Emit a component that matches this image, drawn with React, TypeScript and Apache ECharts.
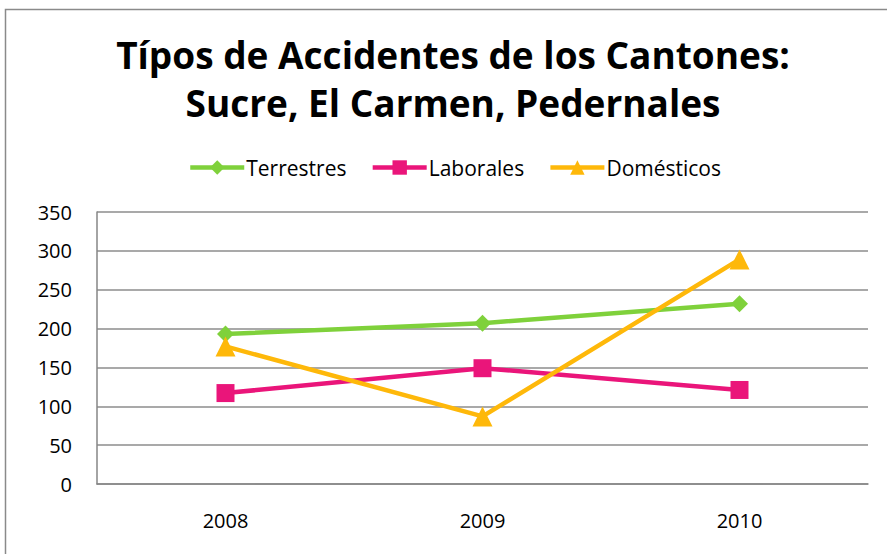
import React, { useEffect, useRef } from "react";
import * as echarts from "echarts";

const titleLines = ["Típos de Accidentes de los Cantones:", "Sucre, El Carmen, Pedernales"];
const years = ["2008", "2009", "2010"];
const terrestres = [193, 207, 232];
const laborales = [117, 149, 121];
const domesticos = [177, 87, 289];
const yTicks = { min: 0, max: 350, interval: 50 };

const FONT = "'Open Sans', Lato, sans-serif";

export default function App() {
  const ref = useRef<HTMLDivElement>(null);
  useEffect(() => {
    if (!ref.current) return;
    const chart = echarts.init(ref.current, undefined, { renderer: "svg" });
    chart.setOption({
      animation: false,
      backgroundColor: "#fff",
      graphic: [
        {
          type: "rect",
          shape: { x: 5.5, y: 9.5, width: 1000, height: 1000 },
          style: { fill: "none", stroke: "#8a8a8a", lineWidth: 1.5 },
          silent: true,
        },
        {
          type: "text",
          x: 453,
          y: 30,
          silent: true,
          style: {
            text: titleLines.join("\n"),
            fontFamily: FONT,
            fontWeight: "bold",
            fontSize: 37,
            lineHeight: 48,
            fill: "#000",
            align: "center",
            verticalAlign: "top",
          },
        },
      ],
      legend: {
        top: 152,
        left: 183,
        itemWidth: 54,
        itemHeight: 18,
        itemGap: 24,
        lineStyle: { width: 4.5 },
        textStyle: { fontFamily: FONT, fontSize: 21, color: "#000", padding: [0, 0, 0, -3] },
        data: ["Terrestres", "Laborales", "Domésticos"],
      },
      grid: { left: 97, right: 19, top: 212, bottom: 70 },
      xAxis: {
        type: "category",
        data: years,
        boundaryGap: true,
        axisLine: { show: true, lineStyle: { color: "#868686", width: 1.5 } },
        axisTick: { show: false },
        axisLabel: { fontFamily: FONT, fontSize: 20, color: "#000", margin: 26 },
      },
      yAxis: {
        type: "value",
        min: yTicks.min,
        max: yTicks.max,
        interval: yTicks.interval,
        axisLine: { show: true, lineStyle: { color: "#868686", width: 1.5 } },
        axisTick: { show: false },
        axisLabel: { fontFamily: FONT, fontSize: 20, color: "#000", margin: 25 },
        splitLine: { show: true, lineStyle: { color: "#8c8c8c", width: 1.5 } },
      },
      series: [
        {
          name: "Terrestres",
          type: "line",
          data: terrestres,
          symbol: "diamond",
          symbolSize: 17,
          color: "#7fd13b",
          lineStyle: { width: 4.5, color: "#7fd13b" },
          itemStyle: { color: "#7fd13b" },
        },
        {
          name: "Laborales",
          type: "line",
          data: laborales,
          symbol: "rect",
          symbolSize: 18,
          color: "#ea157a",
          lineStyle: { width: 4.5, color: "#ea157a" },
          itemStyle: { color: "#ea157a" },
        },
        {
          name: "Domésticos",
          type: "line",
          data: domesticos,
          symbol: "triangle",
          symbolSize: 20,
          color: "#feb80a",
          lineStyle: { width: 4.5, color: "#feb80a" },
          itemStyle: { color: "#feb80a" },
        },
      ],
    });
    return () => chart.dispose();
  }, []);
  return (
    <div
      ref={ref}
      style={{ position: "absolute", left: 0, top: 0, width: 887, height: 554 }}
    />
  );
}
